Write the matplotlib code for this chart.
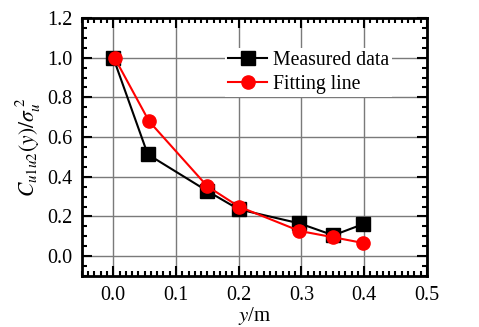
import matplotlib
matplotlib.use("Agg")
import matplotlib.pyplot as plt
from matplotlib.ticker import MultipleLocator

plt.rcParams['font.family'] = ['Liberation Serif', 'DejaVu Serif']
plt.rcParams['mathtext.fontset'] = 'stix'

# values
y_pos = [0.0, 0.055, 0.15, 0.2, 0.297, 0.351, 0.399]
measured = [1.0, 0.513, 0.328, 0.236, 0.165, 0.105, 0.162]
fit_pos = [0.002, 0.057, 0.15, 0.2, 0.297, 0.351, 0.399]
fitting = [1.0, 0.68, 0.352, 0.25, 0.127, 0.095, 0.066]

fig = plt.figure(figsize=(4.79, 3.27), dpi=100)
ax = fig.add_axes([0.171, 0.156, 0.72, 0.789])

ax.plot(y_pos, measured, color='black', lw=1.5, marker='s', ms=9.5,
        label='Measured data', zorder=3)
ax.plot(fit_pos, fitting, color='red', lw=1.5, marker='o', ms=9.5,
        label='Fitting line', zorder=4)

ax.set_xlim(-0.05, 0.5)
ax.set_ylim(-0.1, 1.2)
ax.xaxis.set_major_locator(MultipleLocator(0.1))
ax.xaxis.set_minor_locator(MultipleLocator(0.01))
ax.yaxis.set_major_locator(MultipleLocator(0.2))
ax.yaxis.set_minor_locator(MultipleLocator(0.05))
ax.tick_params(which='both', direction='in', top=True, right=True,
               labelsize=14.5, width=1.5)
ax.tick_params(which='major', length=7, pad=7)
ax.tick_params(which='minor', length=3.5)
ax.grid(True, which='major', color='#7a7a7a', lw=1.0)
ax.set_axisbelow(True)
for s in ax.spines.values():
    s.set_linewidth(2.0)

ax.set_xlabel('$y$/m', fontsize=15, labelpad=0)
ax.set_ylabel(r'$C_{u1u2}(y)/\sigma_u^{\;2}$', fontsize=15.5, labelpad=3)

leg = ax.legend(loc='upper left', bbox_to_anchor=(0.415, 0.885), fontsize=14.2,
                frameon=True, fancybox=False, edgecolor='none',
                facecolor='white', framealpha=1, handlelength=2.0,
                handletextpad=0.3, borderpad=0.15, labelspacing=0.25,
                borderaxespad=0)

fig.savefig('out.png', dpi=100)
